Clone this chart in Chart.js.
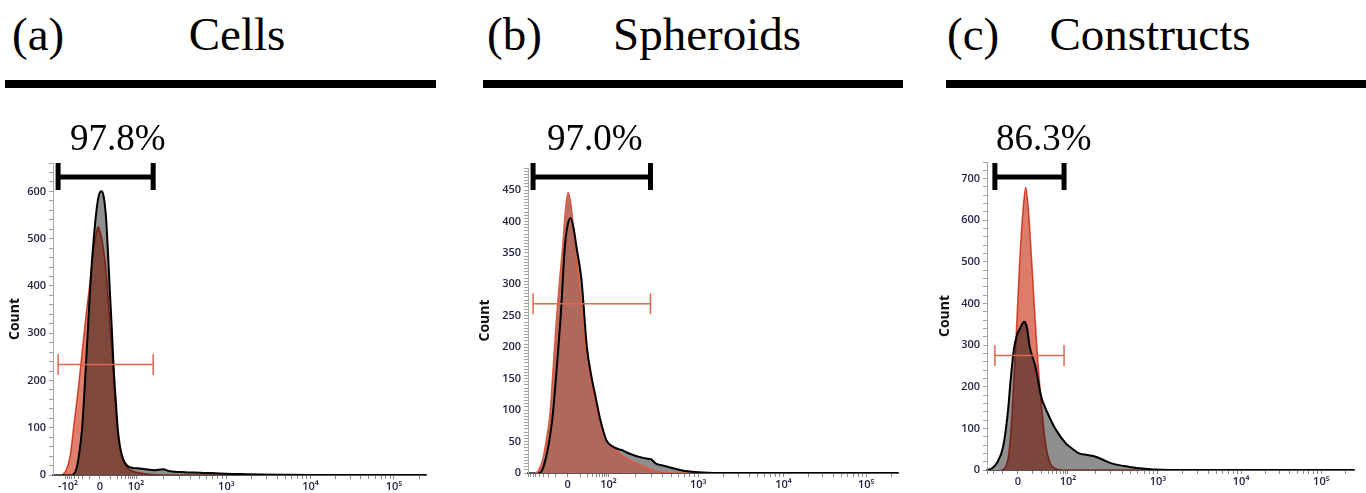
<!DOCTYPE html>
<html>
<head>
<meta charset="utf-8">
<script src="https://cdn.jsdelivr.net/npm/chart.js@4/dist/chart.umd.min.js"></script>
<style>
  body { margin: 0; background: #fff; width: 1366px; height: 493px; overflow: hidden; position: relative; }
  .letter, .name { position: absolute; top: 11px; font-family: "Liberation Serif", "Times New Roman", serif; font-size: 47px; line-height: 1; color: #000; white-space: nowrap; }
  .name { transform: translateX(-50%); }
  .rule { position: absolute; top: 80px; height: 8px; background: #000; }
  canvas { position: absolute; top: 110px; }
</style>
</head>
<body>
<div class="letter" style="left:12px">(a)</div>
<div class="name" style="left:237px">Cells</div>
<div class="rule" style="left:5px;width:431px"></div>

<div class="letter" style="left:487px">(b)</div>
<div class="name" style="left:707px">Spheroids</div>
<div class="rule" style="left:483px;width:420px"></div>

<div class="letter" style="left:947px">(c)</div>
<div class="name" style="left:1150px">Constructs</div>
<div class="rule" style="left:946px;width:420px"></div>

<canvas id="chartA" width="440" height="383" style="left:0px"></canvas>
<canvas id="chartB" width="440" height="383" style="left:470px"></canvas>
<canvas id="chartC" width="436" height="383" style="left:930px"></canvas>

<script>
// x values are display channels (0-1024) of the biexponential axis
const gatePercents = ["97.8%", "97.0%", "86.3%"];

// (a) Cells
const cellsXTicks = [41, 129, 228, 476, 707, 936];
const cellsXLabels = ["-10²", "0", "10²", "10³", "10⁴", "10⁵"];
const cellsSampleX = [55, 63, 71, 80, 88, 96, 104, 113, 121, 129, 134, 140, 146, 151, 156, 162, 167, 173, 178, 184, 192, 203, 220, 239, 255, 280, 302, 321, 362, 404, 458, 513, 568, 620, 700, 1024];
const cellsSampleCount = [0, 10, 40, 100, 200, 310, 420, 510, 570, 598, 600, 585, 540, 470, 390, 300, 220, 150, 95, 60, 35, 20, 15, 14, 12, 10, 12, 8, 6, 5, 3, 2, 1, 0.5, 0, 0];
const cellsControlX = [25, 36, 47, 58, 69, 80, 91, 102, 110, 118, 124, 129, 134, 140, 146, 151, 156, 162, 167, 173, 178, 184, 192, 203, 220, 240, 270, 300, 1024];
const cellsControlCount = [0, 10, 40, 110, 180, 260, 340, 410, 470, 510, 525, 515, 500, 470, 430, 380, 320, 260, 195, 135, 90, 58, 32, 16, 8, 4, 1, 0, 0];
const cellsGate = [14, 275, 234];

// (b) Spheroids
const spheroidsXTicks = [110, 223, 471, 707, 936];
const spheroidsXLabels = ["0", "10²", "10³", "10⁴", "10⁵"];
const spheroidsSampleX = [30, 38, 50, 60, 69, 80, 91, 102, 110, 118, 126, 134, 148, 163, 175, 187, 200, 217, 235, 250, 262, 280, 299, 312, 327, 340, 354, 372, 391, 427, 465, 501, 540, 1024];
const spheroidsSampleCount = [0, 3, 25, 55, 95, 170, 254, 360, 395, 405, 390, 360, 307, 200, 155, 121, 85, 52, 42, 38, 36, 31, 27, 25, 23, 22, 15, 12, 9, 4, 1.5, 0.5, 0, 0];
const spheroidsControlX = [20, 28, 40, 50, 61, 70, 80, 88, 96, 104, 111, 118, 124, 132, 140, 150, 160, 172, 184, 200, 217, 240, 262, 290, 317, 354, 410, 1024];
const spheroidsControlCount = [0, 3, 20, 50, 95, 170, 254, 310, 360, 420, 446, 430, 400, 350, 307, 250, 200, 155, 121, 80, 52, 38, 27, 18, 11, 3, 0, 0];
const spheroidsGate = [14, 339, 269];

// (c) Constructs
const constructsXTicks = [86, 226, 477, 709, 933];
const constructsXLabels = ["0", "10²", "10³", "10⁴", "10⁵"];
const constructsSampleX = [3, 15, 27, 45, 58, 66, 75, 84, 92, 98, 103, 107, 112, 119, 135, 151, 169, 192, 220, 240, 257, 280, 303, 325, 348, 395, 441, 486, 540, 1024];
const constructsSampleCount = [0, 5, 16, 56, 137, 217, 290, 325, 340, 350, 356, 354, 340, 297, 249, 177, 137, 97, 64, 50, 40, 36, 32, 24, 16, 8, 3, 0.5, 0, 0];
const constructsControlX = [40, 50, 58, 63, 70, 80, 91, 100, 108, 116, 125, 139, 154, 165, 175, 192, 215, 1024];
const constructsControlCount = [0, 5, 25, 56, 137, 297, 498, 620, 679, 620, 498, 297, 137, 56, 20, 3, 0, 0];
const constructsGate = [22, 215, 275];

const panels = [
  { id: "chartA", sampleX: cellsSampleX, sampleY: cellsSampleCount, controlX: cellsControlX, controlY: cellsControlCount,
    gate: cellsGate, percent: gatePercents[0], xTicks: cellsXTicks, xLabels: cellsXLabels,
    yMax: 660, yMajor: 100, yMinor: 20, padTop: 53, padRight: 14, yWidth: 53, xHeight: 18, labelDx: 12,
    redFill: "rgb(224,128,108)", blend: true },
  { id: "chartB", sampleX: spheroidsSampleX, sampleY: spheroidsSampleCount, controlX: spheroidsControlX, controlY: spheroidsControlCount,
    gate: spheroidsGate, percent: gatePercents[1], xTicks: spheroidsXTicks, xLabels: spheroidsXLabels,
    yMax: 485, yMajor: 50, yMinor: 5, padTop: 58, padRight: 10, yWidth: 58, xHeight: 20, labelDx: 14,
    redFill: "rgba(178,102,88,0.93)", blend: false },
  { id: "chartC", sampleX: constructsSampleX, sampleY: constructsSampleCount, controlX: constructsControlX, controlY: constructsControlCount,
    gate: constructsGate, percent: gatePercents[2], xTicks: constructsXTicks, xLabels: constructsXLabels,
    yMax: 740, yMajor: 100, yMinor: 20, padTop: 52, padRight: 8, yWidth: 57, xHeight: 23, labelDx: 1,
    redFill: "rgb(222,124,106)", blend: true }
];

function xMinorTicks(vals, labels) {
  const out = [];
  const i0 = labels.indexOf("0"), i2 = labels.indexOf("10²");
  const p0 = vals[i0], p2 = vals[i2];
  for (let m = 2; m <= 9; m++) {
    const d = (p2 - p0) * Math.log10(m);
    out.push(p0 + d, p0 - d);
  }
  if (labels.indexOf("-10²") < 0) out.push(p0 - (p2 - p0));
  for (let i = i2; i < vals.length; i++) {
    const w = i + 1 < vals.length ? vals[i + 1] - vals[i] : vals[i] - vals[i - 1];
    for (let m = 2; m <= 9; m++) out.push(vals[i] + w * Math.log10(m));
  }
  return out.filter(v => v > 0 && v < 1024);
}

const toPoints = (xs, ys) => xs.map((x, i) => ({ x, y: ys[i] }));

// multiply the control fill over the sample fill (state set between datasets so the filler picks it up)
const blendPlugin = {
  id: "blend",
  afterDatasetDraw(chart, args, opts) {
    const role = chart.data.datasets[args.index].role;
    if (role === "sampleFill" && opts.on) chart.ctx.globalCompositeOperation = "multiply";
    if (role === "control") chart.ctx.globalCompositeOperation = "source-over";
  }
};

// black bracket + percentage above the gate
const bracketPlugin = {
  id: "bracket",
  afterDraw(chart, args, opts) {
    const { ctx, scales: { x } } = chart;
    const x0 = x.getPixelForValue(opts.gate[0]);
    const x1 = x.getPixelForValue(opts.gate[1]);
    ctx.save();
    ctx.globalCompositeOperation = "source-over";
    ctx.fillStyle = "#000";
    ctx.fillRect(x0 - 2.5, 53, 5, 27);
    ctx.fillRect(x1 - 2.5, 53, 5, 27);
    ctx.fillRect(x0, 64.5, x1 - x0, 5);
    ctx.font = '37px "Liberation Serif", "Times New Roman", serif';
    ctx.textBaseline = "alphabetic";
    ctx.fillText(opts.percent, x0 + opts.labelDx, 40);
    ctx.restore();
  }
};

panels.forEach(p => {
  const xTickVals = [...p.xTicks, ...xMinorTicks(p.xTicks, p.xLabels)].sort((a, b) => a - b);
  const yTickVals = [];
  for (let v = 0; v <= p.yMax; v += p.yMinor) yTickVals.push(v);

  new Chart(document.getElementById(p.id), {
    type: "line",
    data: {
      datasets: [
        { role: "sampleFill", order: 4, data: toPoints(p.sampleX, p.sampleY), fill: "origin", backgroundColor: "#8f8f8f", borderWidth: 0, pointRadius: 0, cubicInterpolationMode: "monotone" },
        { role: "control", order: 3, data: toPoints(p.controlX, p.controlY), fill: "origin", backgroundColor: p.redFill, borderColor: "#e0573d", borderWidth: 1.5, pointRadius: 0, cubicInterpolationMode: "monotone" },
        { role: "sampleLine", order: 2, data: toPoints(p.sampleX, p.sampleY), fill: false, borderColor: "#000", borderWidth: 2, pointRadius: 0, cubicInterpolationMode: "monotone" },
        { role: "gate", order: 1, data: [{ x: p.gate[0], y: p.gate[2] }, { x: p.gate[1], y: p.gate[2] }], fill: false, borderColor: "#e0664e", borderWidth: 1.5,
          pointStyle: "line", rotation: 90, pointRadius: 10.5, pointBorderColor: "#e0664e", pointBorderWidth: 1.5, pointHoverRadius: 10.5 }
      ]
    },
    options: {
      responsive: false,
      devicePixelRatio: 1,
      animation: false,
      events: [],
      layout: { padding: { top: p.padTop, right: p.padRight, left: 0, bottom: 0 } },
      plugins: {
        legend: { display: false },
        tooltip: { enabled: false },
        blend: { on: p.blend },
        bracket: { gate: p.gate, percent: p.percent, labelDx: p.labelDx }
      },
      scales: {
        x: {
          type: "linear", min: 0, max: 1024,
          afterBuildTicks: s => { s.ticks = xTickVals.map(v => ({ value: v })); },
          afterFit: s => { s.height = p.xHeight; },
          border: { display: true, color: "#555", width: 2 },
          grid: { drawOnChartArea: false, drawTicks: true, tickLength: 4, tickColor: "#8a8a8a" },
          ticks: {
            autoSkip: false, maxRotation: 0, minRotation: 0, padding: 1,
            color: "#1f2040", font: { family: "Open Sans", size: 11, weight: 600 },
            callback: v => { const k = p.xTicks.indexOf(v); return k >= 0 ? p.xLabels[k] : ""; }
          }
        },
        y: {
          type: "linear", min: 0, max: p.yMax,
          afterBuildTicks: s => { s.ticks = yTickVals.map(v => ({ value: v })); },
          afterFit: s => { s.width = p.yWidth; },
          border: { display: true, color: "#a8a8a8", width: 1 },
          grid: { drawOnChartArea: false, drawTicks: true, tickLength: 4, tickColor: "#a0a0a0" },
          ticks: {
            autoSkip: false, padding: 3,
            color: "#1f2040", font: { family: "Open Sans", size: 11, weight: 600 },
            callback: v => (v % p.yMajor === 0 ? String(v) : "")
          },
          title: { display: true, text: "Count", color: "#111", padding: { top: 7 }, font: { family: "Open Sans", size: 14, weight: "bold" } }
        }
      }
    },
    plugins: [blendPlugin, bracketPlugin]
  });
});
</script>
</body>
</html>
